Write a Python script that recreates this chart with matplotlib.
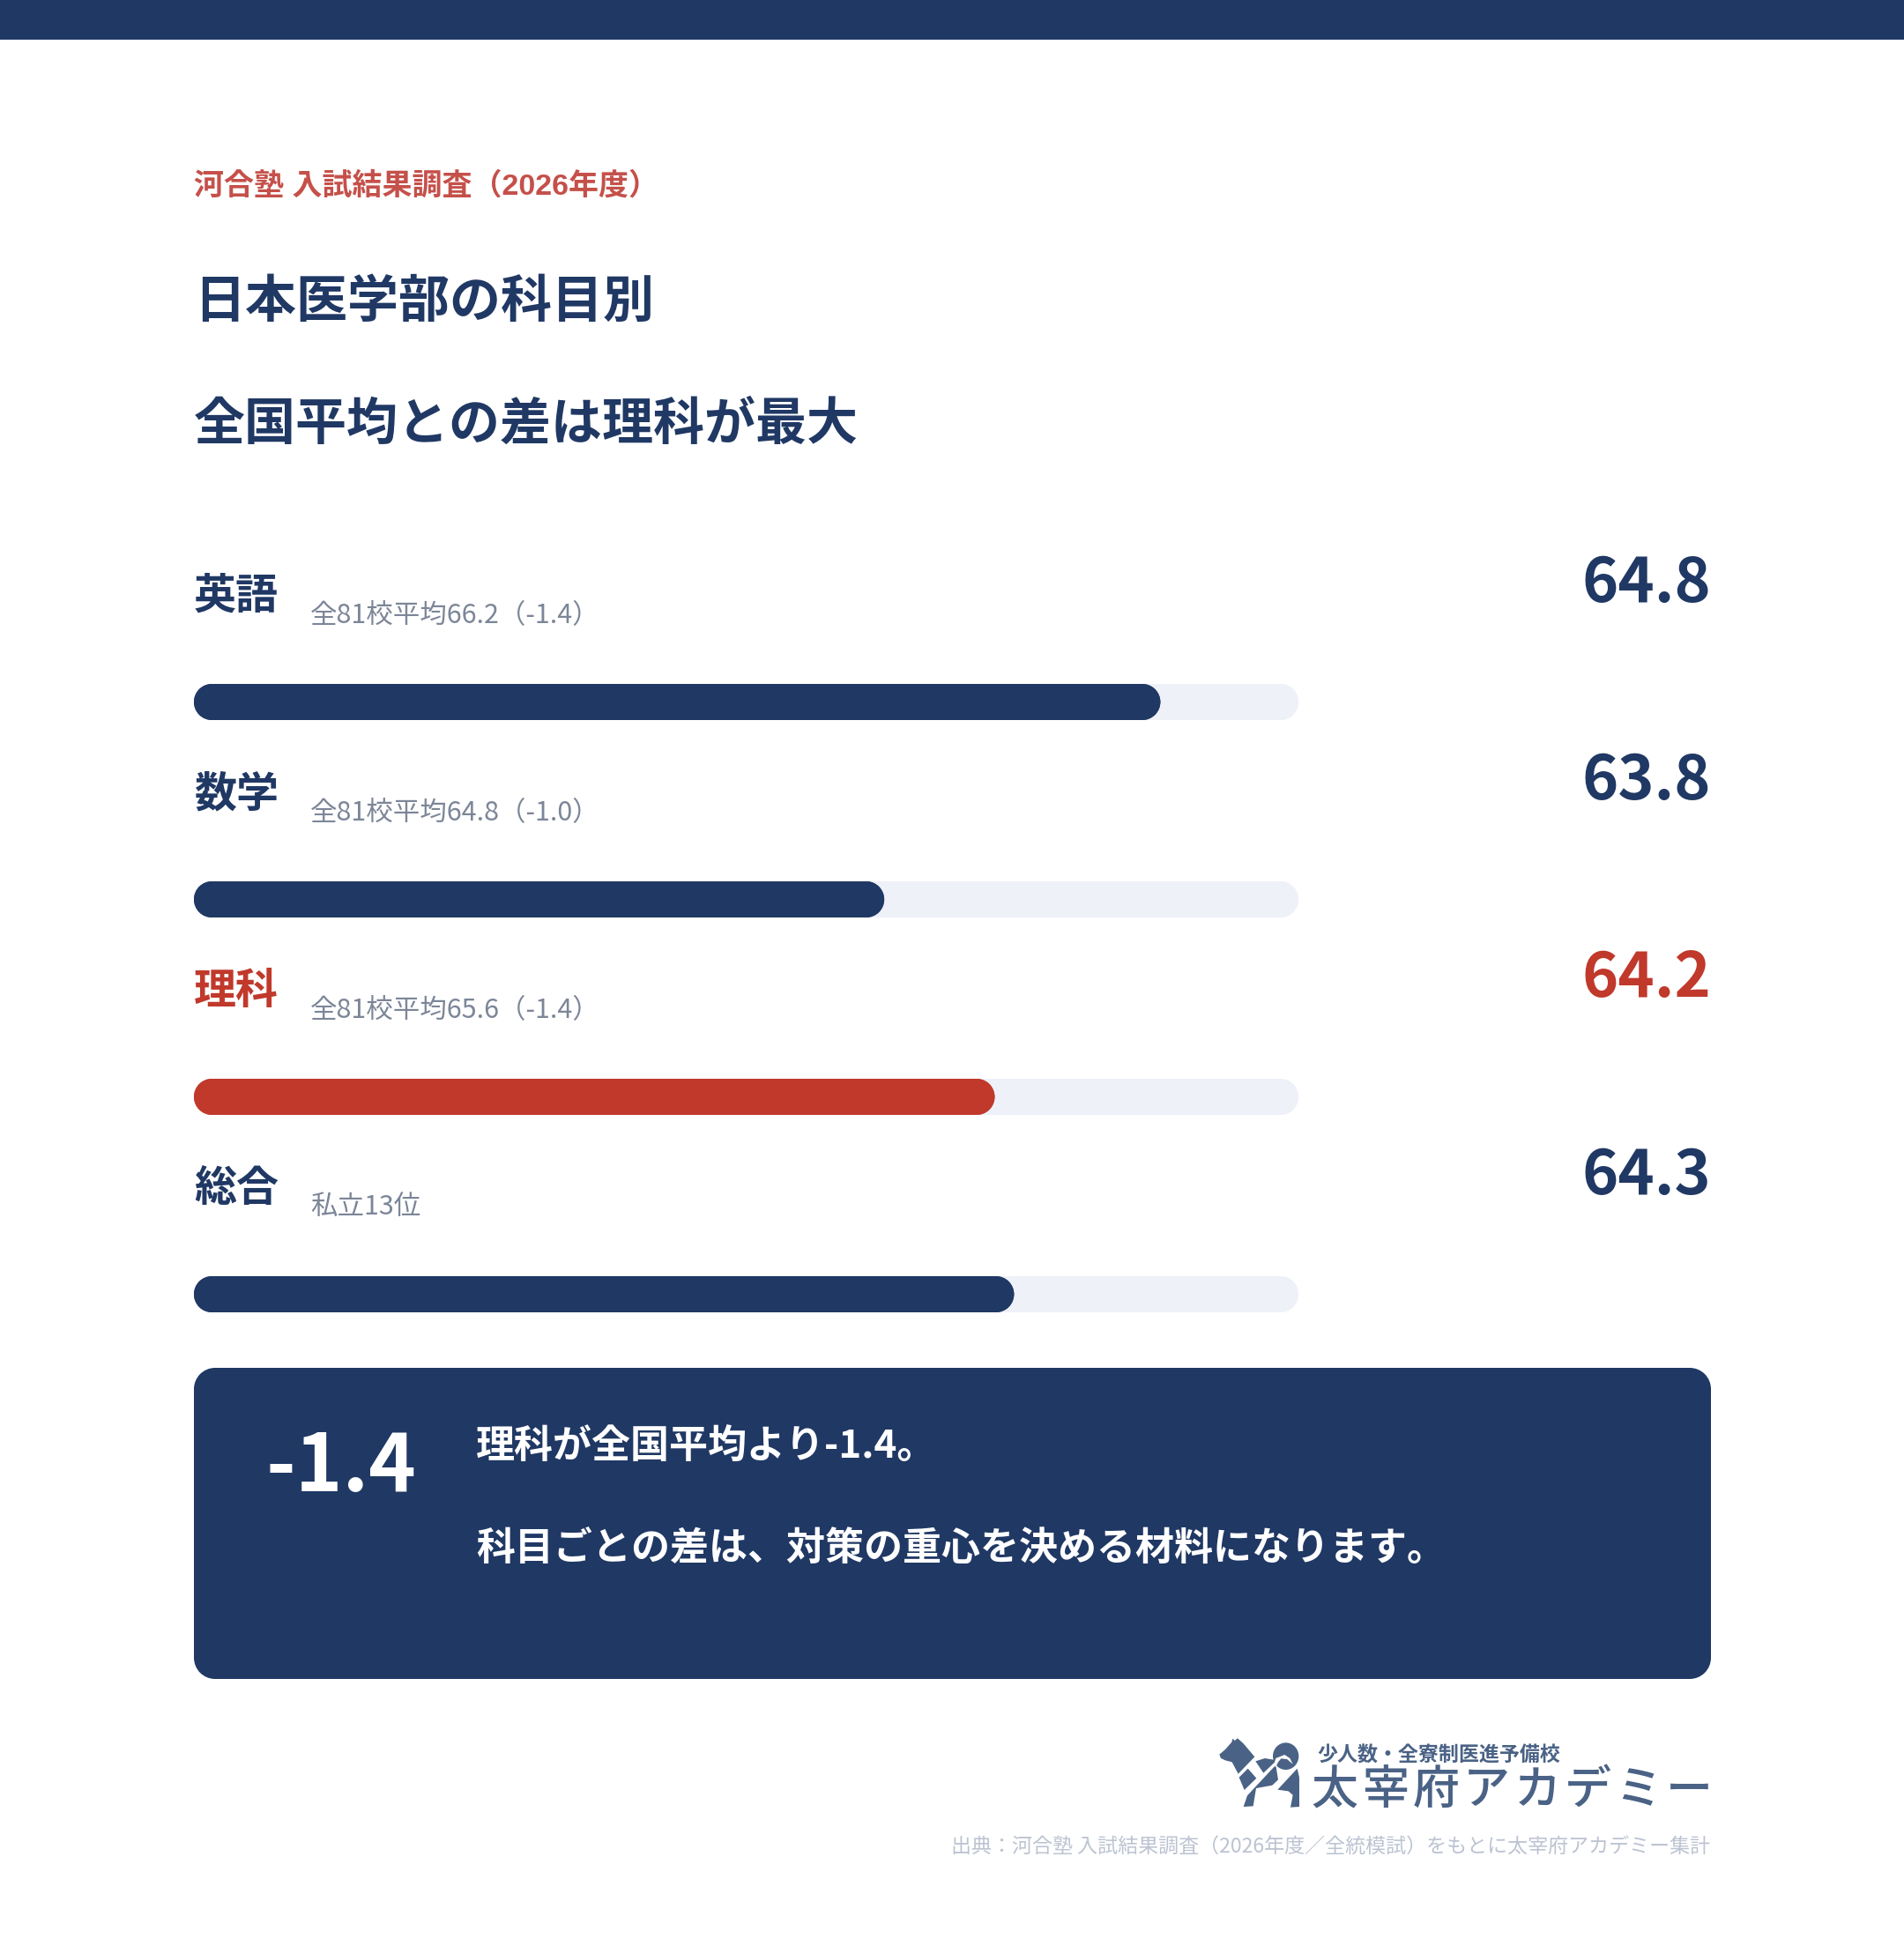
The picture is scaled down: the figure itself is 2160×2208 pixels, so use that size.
import matplotlib
matplotlib.use("Agg")
import matplotlib.pyplot as plt
from matplotlib.patches import Rectangle, Polygon, Ellipse

OUTPUT_PATH = "out.png"

KICKER = "河合塾 入試結果調査（2026年度）"
TITLE_LINES = ["日本医学部の科目別", "全国平均との差は理科が最大"]

SUBJECTS = ["英語", "数学", "理科", "総合"]
SCORES = [64.8, 63.8, 64.2, 64.3]
# where each bar ends on the score scale
BAR_ENDS = [64.8, 63.8, 64.2, 64.27]
SUBLABELS = [
    "全81校平均66.2（-1.4）",
    "全81校平均64.8（-1.0）",
    "全81校平均65.6（-1.4）",
    "私立13位",
]
HIGHLIGHT = "理科"
SCALE_MIN = 61.3
SCALE_MAX = 65.3

CALLOUT_VALUE = "-1.4"
CALLOUT_LINES = ["理科が全国平均より-1.4。", "科目ごとの差は、対策の重心を決める材料になります。"]

LOGO_TAGLINE = "少人数・全寮制医進予備校"
LOGO_NAME = "太宰府アカデミー"
SOURCE = "出典：河合塾 入試結果調査（2026年度／全統模試）をもとに太宰府アカデミー集計"

NAVY = "#203864"
RED = "#C0392B"
KICKER_RED = "#C5504A"
TRACK = "#EEF1F8"
GRAY = "#7C8698"
SOURCE_GRAY = "#BCC3D1"
LOGO = "#4A6285"

W, H = 2160, 2208
plt.rcParams["font.family"] = ["Noto Sans CJK JP", "DejaVu Sans"]


def px(size):
    # font size given in image pixels (dpi 100)
    return size * 0.72


def rounded_box(ax, x, y, width, height, rx, ry, color):
    # matplotlib's round boxstyle has squarish corners, so build it from circles
    kw = dict(facecolor=color, edgecolor="none", linewidth=0)
    ax.add_patch(Rectangle((x + rx, y), width - 2 * rx, height, **kw))
    ax.add_patch(Rectangle((x, y + ry), width, height - 2 * ry, **kw))
    for cx in (x + rx, x + width - rx):
        for cy in (y + ry, y + height - ry):
            ax.add_patch(Ellipse((cx, cy), 2 * rx, 2 * ry, **kw))


def draw_logo(ax):
    def pts(zoomed):
        return [(1370 + x / 3, 1960 + y / 3) for x, y in zoomed]

    parts = [
        [(40, 92), (60, 75), (82, 50), (85, 38), (92, 45), (102, 37), (122, 55),
         (160, 100), (104, 158), (83, 118), (60, 112), (45, 105)],
        [(163, 115), (195, 105), (235, 112), (190, 155)],
        [(107, 170), (137, 140), (166, 173), (125, 213)],
        [(135, 232), (232, 128), (240, 178), (220, 197), (165, 207), (155, 268), (122, 270)],
        [(238, 212), (305, 140), (312, 170), (312, 270), (282, 272), (290, 230), (275, 217)],
    ]
    for part in parts:
        ax.add_patch(Polygon(pts(part), closed=True, facecolor=LOGO, edgecolor="none"))
    ax.add_patch(Ellipse((1370 + 266 / 3, 1960 + 98 / 3), 88 / 3, 92 / 3, facecolor=LOGO, edgecolor="none"))
    ax.add_patch(Polygon(pts([(225, 128), (232, 105), (262, 93), (280, 105), (290, 125),
                              (270, 108), (250, 106), (240, 118), (232, 135)]),
                         closed=True, facecolor="white", edgecolor="none"))
    ax.text(1494, 1999, LOGO_TAGLINE, fontsize=px(23), fontweight="bold", color=LOGO,
            ha="left", va="baseline")
    step = 57.5
    for i, ch in enumerate(LOGO_NAME):
        ax.text(1514 + i * step, 2047, ch, fontsize=px(53), fontweight="medium", color=LOGO,
                ha="center", va="baseline")


def main():
    fig = plt.figure(figsize=(W / 100, H / 100), dpi=100, facecolor="white")

    # page axes works in image pixels
    page = fig.add_axes([0, 0, 1, 1])
    page.set_xlim(0, W)
    page.set_ylim(H, 0)
    page.axis("off")

    page.add_patch(Rectangle((0, 0), W, 45, facecolor=NAVY, edgecolor="none"))

    page.text(220, 221, KICKER, fontsize=px(34), fontweight="bold", color=KICKER_RED,
              family=["Liberation Sans", "Noto Sans CJK JP"], va="baseline")
    for line, y in zip(TITLE_LINES, [360, 499]):
        page.text(220, y, line, fontsize=px(58), fontweight="bold", color=NAVY, va="baseline")

    # bars sit on their own axes: x is the score, y stays in image pixels
    bars = fig.add_axes([220 / W, 0, 1253 / W, 1])
    bars.set_xlim(SCALE_MIN, SCALE_MAX)
    bars.set_ylim(H, 0)
    bars.axis("off")
    radius = 20.5 * (SCALE_MAX - SCALE_MIN) / 1253

    for i, (name, score, end, sub) in enumerate(zip(SUBJECTS, SCORES, BAR_ENDS, SUBLABELS)):
        dy = 224 * i
        color = RED if name == HIGHLIGHT else NAVY
        rounded_box(bars, SCALE_MIN, 776 + dy, SCALE_MAX - SCALE_MIN, 41, radius, 20.5, TRACK)
        rounded_box(bars, SCALE_MIN, 776 + dy, end - SCALE_MIN, 41, radius, 20.5, color)
        page.text(220, 691 + dy, name, fontsize=px(48), fontweight="bold", color=color, va="baseline")
        page.text(352, 707 + dy, sub, fontsize=px(30.5), color=GRAY, va="baseline")
        page.text(1941, 683 + dy, f"{score:.1f}", fontsize=px(70), fontweight="bold", color=color,
                  ha="right", va="baseline")

    rounded_box(page, 220, 1552, 1721, 353, 24, 24, NAVY)
    page.text(301, 1692, CALLOUT_VALUE, fontsize=px(91), fontweight="bold", color="white", va="baseline")
    for line, y in zip(CALLOUT_LINES, [1655, 1771]):
        page.text(540, y, line, fontsize=px(44), fontweight="bold", color="white", va="baseline")

    draw_logo(page)
    page.text(1940, 2102, SOURCE, fontsize=px(23), color=SOURCE_GRAY, ha="right", va="baseline")

    fig.savefig(OUTPUT_PATH, dpi=100, facecolor="white")
    plt.close(fig)


if __name__ == "__main__":
    main()
